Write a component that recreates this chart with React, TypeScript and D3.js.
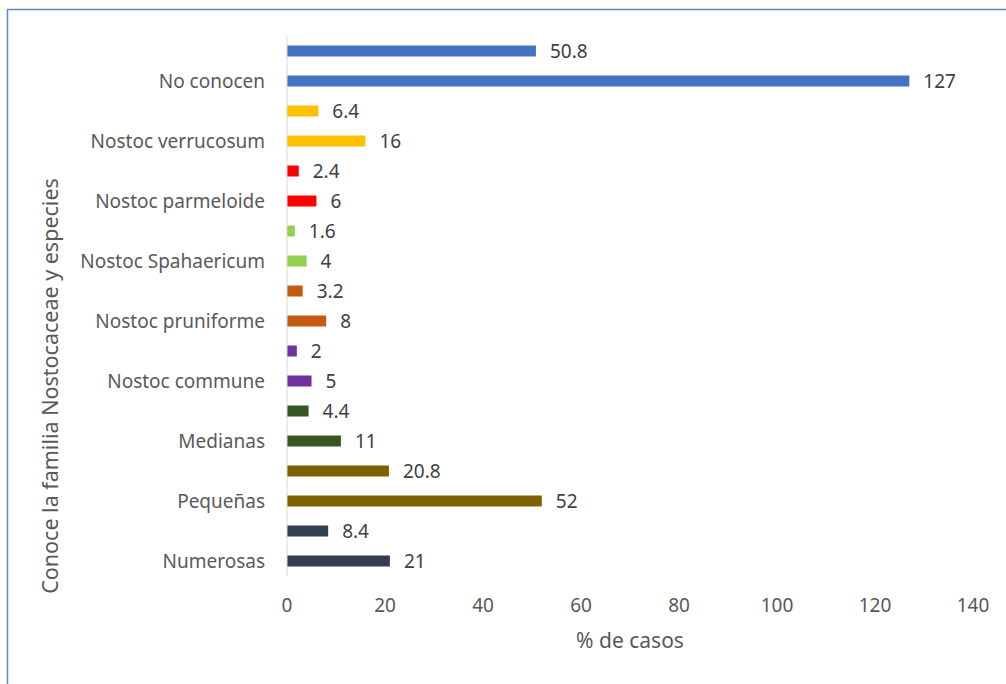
import * as d3 from "d3";
import { useEffect, useRef } from "react";

// top to bottom as drawn
const categories = [
  "No conocen",
  "Nostoc verrucosum",
  "Nostoc parmeloide",
  "Nostoc Spahaericum",
  "Nostoc pruniforme",
  "Nostoc commune",
  "Medianas",
  "Pequeñas",
  "Numerosas",
];
const counts = [127, 16, 6, 4, 8, 5, 11, 52, 21];
const percents = [50.8, 6.4, 2.4, 1.6, 3.2, 2, 4.4, 20.8, 8.4];
const colors = [
  "#4472C4",
  "#FFC000",
  "#FF0000",
  "#92D050",
  "#C55A11",
  "#7030A0",
  "#375623",
  "#7F6000",
  "#323F4F",
];
const xTicks = [0, 20, 40, 60, 80, 100, 120, 140];

const W = 1006;
const H = 684;
const FONT = "'Noto Sans', 'Open Sans', sans-serif";
const TEXT = "#595959";

export default function App() {
  const svgRef = useRef(null);

  useEffect(() => {
    if (!svgRef.current) return;
    const svg = d3.select(svgRef.current);
    svg.selectAll("*").remove();

    const x = d3.scaleLinear().domain([0, 140]).range([287, 973]);
    const y = d3.scaleBand().domain(categories).range([36, 576]);
    const barH = 11;

    // frame (only left and top edges visible)
    svg
      .append("path")
      .attr("d", `M7.5,${H} L7.5,9.5 L${W},9.5`)
      .attr("fill", "none")
      .attr("stroke", "#5B87C5")
      .attr("stroke-width", 1.5);

    const rows = categories.map((c, i) => ({
      c,
      count: counts[i],
      pct: percents[i],
      color: colors[i],
    }));

    const g = svg.append("g");

    // percent bars (upper) and count bars (lower)
    const series = [
      { key: "pct", off: 0.25 },
      { key: "count", off: 0.75 },
    ];
    series.forEach((s) => {
      g.selectAll(null)
        .data(rows)
        .enter()
        .append("rect")
        .attr("x", x(0))
        .attr("y", (d) => y(d.c)! + y.bandwidth() * s.off - barH / 2)
        .attr("width", (d: any) => x(d[s.key]) - x(0))
        .attr("height", barH)
        .attr("fill", (d) => d.color);

      g.selectAll(null)
        .data(rows)
        .enter()
        .append("text")
        .attr("x", (d: any) => x(d[s.key]) + 14)
        .attr("y", (d) => y(d.c)! + y.bandwidth() * s.off)
        .attr("dy", "0.35em")
        .attr("font-family", FONT)
        .attr("font-size", 19)
        .attr("fill", "#404040")
        .text((d: any) => String(d[s.key]));
    });

    // vertical axis line
    svg
      .append("line")
      .attr("x1", x(0))
      .attr("x2", x(0))
      .attr("y1", 36)
      .attr("y2", 576)
      .attr("stroke", "#D9D9D9")
      .attr("stroke-width", 1);

    // category labels
    svg
      .selectAll(null)
      .data(categories)
      .enter()
      .append("text")
      .attr("x", 265)
      .attr("y", (d) => y(d)! + y.bandwidth() * 0.75)
      .attr("dy", "0.35em")
      .attr("text-anchor", "end")
      .attr("font-family", FONT)
      .attr("font-size", 19)
      .attr("fill", TEXT)
      .text((d) => d);

    // x tick labels
    svg
      .selectAll(null)
      .data(xTicks)
      .enter()
      .append("text")
      .attr("x", (d) => x(d))
      .attr("y", 605)
      .attr("dy", "0.35em")
      .attr("text-anchor", "middle")
      .attr("font-family", FONT)
      .attr("font-size", 19)
      .attr("fill", TEXT)
      .text((d) => d);

    // axis titles
    svg
      .append("text")
      .attr("x", 630)
      .attr("y", 641)
      .attr("dy", "0.35em")
      .attr("text-anchor", "middle")
      .attr("font-family", FONT)
      .attr("font-size", 21)
      .attr("fill", TEXT)
      .text("% de casos");

    svg
      .append("text")
      .attr("transform", "translate(50,386) rotate(-90)")
      .attr("dy", "0.35em")
      .attr("text-anchor", "middle")
      .attr("font-family", FONT)
      .attr("font-size", 21.5)
      .attr("fill", TEXT)
      .text("Conoce la familia Nostocaceae y especies");
  }, []);

  return (
    <svg
      ref={svgRef}
      width={W}
      height={H}
      viewBox={`0 0 ${W} ${H}`}
      style={{ position: "absolute", left: 0, top: 0, background: "#fff" }}
    />
  );
}
